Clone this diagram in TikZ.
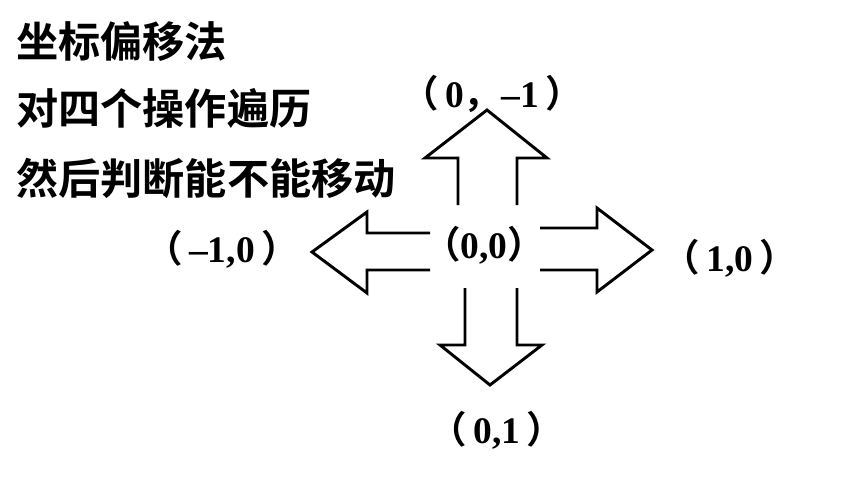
\documentclass[tikz,border=0pt]{standalone}
\usepackage{fontspec}
\setmainfont{Liberation Serif}
\newfontfamily\cjk{Noto Sans CJK SC}[BoldFont=Noto Sans CJK SC Bold]
\begin{document}
\begin{tikzpicture}[x=0.03cm,y=-0.03cm,
    arrowshape/.style={draw,line width=2.5pt,line join=miter},
    title/.style={anchor=west,font=\cjk\bfseries\fontsize{36}{40}\selectfont,inner sep=0pt},
    coordlabel/.style={font=\bfseries\fontsize{32}{35}\selectfont,inner sep=0pt}]
  \useasboundingbox (0,0) rectangle (859,492);
  % text on the left
  \node[title] (t1) at (16,42) {坐标偏移法};
  \node[title] (t2) at (16,108) {对四个操作遍历};
  \node[title] (t3) at (16,178) {然后判断能不能移动};
  % four arrows
  \draw[arrowshape] (458,205) -- (458,158) -- (425,158) -- (487,110) -- (547,158)
    -- (517,158) -- (517,205);
  \draw[arrowshape] (430,233) -- (367,233) -- (367,212) -- (312,252) -- (367,293)
    -- (367,270) -- (430,270);
  \draw[arrowshape] (540,228) -- (597,228) -- (597,208) -- (652,250) -- (597,292)
    -- (597,270) -- (540,270);
  \draw[arrowshape] (465,288) -- (465,345) -- (440,345) -- (490,385) -- (542,345)
    -- (517,345) -- (517,288);
  % labels
  \node[coordlabel] (up) at (492,94) {{\cjk（}\,0{\cjk，}–1\,{\cjk ）}};
  \node[coordlabel] (mid) at (484,245) {{\cjk（}0,0{\cjk ）}};
  \node[coordlabel] (left) at (222,249) {{\cjk（}\,–1,0\,{\cjk ）}};
  \node[coordlabel] (right) at (730,258) {{\cjk（}\,1,0\,{\cjk ）}};
  \node[coordlabel] (down) at (497,430) {{\cjk（}\,0,1\,{\cjk ）}};
\end{tikzpicture}
\end{document}
